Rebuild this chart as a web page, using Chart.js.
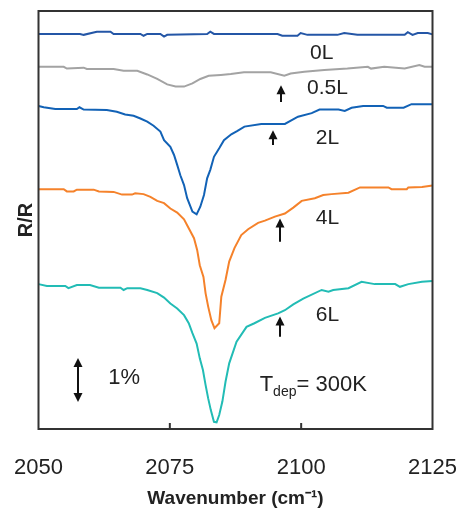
<!DOCTYPE html>
<html>
<head>
<meta charset="utf-8">
<script src="https://cdn.jsdelivr.net/npm/chart.js@4/dist/chart.umd.min.js"></script>
<style>
html,body{margin:0;padding:0;background:#fff;}
#wrap{width:461px;height:515px;position:relative;}
</style>
</head>
<body>
<div id="wrap"><canvas id="c" width="461" height="515"></canvas></div>
<script>
// Wavenumber (cm-1) and R/R (%) values, each spectrum offset vertically
const wn0L = [2050,2057.9,2058.6,2061.1,2063.7,2064.3,2069.4,2070.0,2070.7,2073.2,2073.9,2074.5,2082.1,2082.7,2083.4,2095.5,2096.4,2099.3,2099.9,2101.2,2106.9,2108.2,2110.7,2119.7,2120.3,2121.2,2122.2,2124.1,2125];
const r0L  = [8.78,8.78,8.76,8.83,8.83,8.78,8.78,8.74,8.78,8.78,8.72,8.76,8.78,8.83,8.78,8.78,8.74,8.74,8.80,8.76,8.76,8.80,8.76,8.76,8.82,8.76,8.80,8.80,8.77];

const wn05L = [2050,2054.8,2055.4,2058.6,2059.2,2064.3,2066.2,2068.8,2070.7,2072.6,2074.5,2076.1,2077.7,2079.3,2080.8,2082.4,2084.7,2086.6,2089.1,2094.2,2096.8,2098.0,2100.6,2104.4,2108.8,2112.7,2113.3,2115.8,2119.7,2122.5,2123.5,2125];
const r05L  = [8.05,8.05,8.01,8.03,8.00,8.00,7.96,7.96,7.88,7.78,7.66,7.61,7.61,7.68,7.78,7.85,7.87,7.89,7.93,7.93,7.85,7.90,7.94,7.98,8.01,8.05,8.01,8.05,8.01,8.09,8.05,8.05];

const wn2L = [2050,2051.0,2053.2,2057.3,2057.8,2058.6,2063.0,2064.9,2066.5,2068.1,2069.4,2070.7,2071.9,2073.2,2073.9,2075.1,2075.8,2076.4,2077.0,2077.7,2078.3,2079.3,2080.1,2080.8,2081.5,2082.1,2082.7,2083.4,2084.4,2085.3,2086.7,2087.8,2089.2,2092.4,2096.9,2099.4,2102.0,2103.5,2107.1,2108.3,2109.6,2111.8,2115.6,2116.3,2119.5,2121.0,2125];
const r2L  = [7.18,7.15,7.11,7.11,7.15,7.10,7.09,7.05,6.99,6.96,6.90,6.83,6.74,6.61,6.42,6.27,6.09,5.87,5.64,5.42,5.13,4.83,4.77,4.94,5.20,5.57,5.76,6.05,6.24,6.42,6.55,6.62,6.72,6.78,6.78,6.94,7.02,7.10,7.10,7.07,7.14,7.18,7.18,7.14,7.14,7.22,7.22];

const wn4L = [2050,2054.8,2055.4,2056.7,2057.3,2060.5,2061.5,2064.3,2065.9,2067.8,2068.4,2070.0,2071.3,2072.6,2073.9,2075.1,2076.4,2077.7,2078.6,2079.6,2080.2,2080.7,2081.4,2081.8,2082.3,2082.9,2083.5,2084.4,2084.8,2085.6,2086.3,2087.3,2088.6,2089.9,2091.8,2093.1,2095.0,2096.9,2098.5,2100.1,2102.6,2104.2,2105.8,2109.0,2111.2,2116.6,2117.2,2120.1,2120.4,2123.0,2125];
const r4L  = [5.33,5.33,5.28,5.28,5.32,5.32,5.28,5.27,5.21,5.21,5.24,5.22,5.16,5.07,5.02,4.90,4.81,4.66,4.46,4.24,3.98,3.64,3.38,3.02,2.72,2.42,2.24,2.35,2.94,3.31,3.72,4.02,4.31,4.44,4.58,4.63,4.72,4.79,4.92,5.07,5.13,5.20,5.22,5.25,5.37,5.37,5.33,5.33,5.37,5.38,5.41];

const wn6L = [2050,2051.6,2055.1,2055.7,2057.3,2059.8,2061.5,2065.6,2066.2,2066.9,2069.4,2070.7,2072.6,2073.9,2075.1,2076.4,2077.7,2078.6,2079.3,2080.1,2080.7,2081.3,2081.8,2082.3,2082.8,2083.4,2083.9,2084.4,2085.0,2085.6,2086.3,2087.7,2089.6,2091.1,2093.1,2095.6,2096.9,2098.5,2100.4,2103.9,2105.2,2106.1,2109.0,2111.5,2114.0,2117.9,2118.8,2120.4,2123.0,2125];
const r6L  = [3.22,3.18,3.18,3.13,3.20,3.20,3.14,3.14,3.09,3.13,3.13,3.09,3.02,2.92,2.79,2.68,2.53,2.35,2.13,1.90,1.57,1.31,0.98,0.68,0.42,0.16,0.15,0.31,0.61,1.05,1.46,1.94,2.27,2.35,2.47,2.57,2.64,2.77,2.90,3.09,3.05,3.09,3.13,3.27,3.22,3.22,3.16,3.22,3.27,3.29];

const seriesNames = ["0L","0.5L","2L","4L","6L"];
const xTicks = [2050,2075,2100,2125];

// Annotation labels (data coordinates)
const labelText = ["0L","0.5L","2L","4L","6L"];
const labelWn   = [2103.9,2105.0,2105.0,2105.0,2105.0];
const labelVal  = [8.36,7.58,6.47,4.69,2.53];
const arrowWn   = [2096.2,2094.7,2096.05,2096.05];
const arrowTop  = [7.64,6.64,4.68,2.50];
const arrowTail = [7.27,6.31,4.16,2.05];
const scaleBarWn = 2057.6, scaleBarLow = 0.60, scaleBarHigh = 1.58;

const colors = ["#2456a6","#a3a3a3","#1262b6","#f5822b","#22bcb5"];
const xs = [wn0L,wn05L,wn2L,wn4L,wn6L];
const ys = [r0L,r05L,r2L,r4L,r6L];

const FONT = "'Liberation Sans', Arial, sans-serif";

const datasets = seriesNames.map((n,i)=>({
  label:n,
  data: xs[i].map((x,j)=>({x:x,y:ys[i][j]})),
  borderColor: colors[i],
  borderWidth: 2,
  pointRadius: 0,
  tension: 0,
  fill:false
}));

function upArrow(ctx,x,yTop,yTail){
  ctx.beginPath();
  ctx.moveTo(x,yTail); ctx.lineTo(x,yTop+6); ctx.stroke();
  ctx.beginPath();
  ctx.moveTo(x,yTop); ctx.lineTo(x-4.5,yTop+9); ctx.lineTo(x+4.5,yTop+9); ctx.closePath(); ctx.fill();
}
function downArrow(ctx,x,yTip,yTail){
  ctx.beginPath();
  ctx.moveTo(x,yTail); ctx.lineTo(x,yTip-6); ctx.stroke();
  ctx.beginPath();
  ctx.moveTo(x,yTip); ctx.lineTo(x-4.5,yTip-9); ctx.lineTo(x+4.5,yTip-9); ctx.closePath(); ctx.fill();
}

const annot = {
  id:'annot',
  afterDatasetsDraw(chart){
    const ctx = chart.ctx, xS = chart.scales.x, yS = chart.scales.y, a = chart.chartArea;
    ctx.save();
    // frame
    ctx.strokeStyle = '#333'; ctx.lineWidth = 2;
    ctx.strokeRect(a.left, a.top, a.right-a.left, a.bottom-a.top);
    // inward ticks
    xTicks.forEach(v=>{
      const px = xS.getPixelForValue(v);
      if (px > a.left+2 && px < a.right-2){
        ctx.beginPath(); ctx.moveTo(px,a.bottom); ctx.lineTo(px,a.bottom-6); ctx.stroke();
      }
    });
    ctx.fillStyle = '#222';
    ctx.font = '21px ' + FONT;
    ctx.textAlign = 'center'; ctx.textBaseline = 'middle';
    labelText.forEach((t,i)=>{
      ctx.fillText(t, xS.getPixelForValue(labelWn[i]), yS.getPixelForValue(labelVal[i]));
    });
    ctx.strokeStyle = '#111'; ctx.fillStyle = '#111'; ctx.lineWidth = 2;
    arrowWn.forEach((w,i)=>{
      upArrow(ctx, Math.round(xS.getPixelForValue(w)), yS.getPixelForValue(arrowTop[i]), yS.getPixelForValue(arrowTail[i]));
    });
    // scale bar double arrow
    const sx = Math.round(xS.getPixelForValue(scaleBarWn));
    const yHi = yS.getPixelForValue(scaleBarHigh), yLo = yS.getPixelForValue(scaleBarLow);
    const mid = (yHi+yLo)/2;
    upArrow(ctx, sx, yHi, mid);
    downArrow(ctx, sx, yLo, mid);
    ctx.fillStyle = '#222';
    ctx.font = '22px ' + FONT;
    ctx.textAlign = 'center'; ctx.textBaseline = 'middle';
    ctx.fillText('1%', xS.getPixelForValue(2066.3), yS.getPixelForValue(1.14));
    // T_dep = 300K
    ctx.textAlign = 'left'; ctx.textBaseline = 'alphabetic';
    let tx = xS.getPixelForValue(2092.1);
    const ty = yS.getPixelForValue(1.02) + 8;
    ctx.font = '22px ' + FONT;
    ctx.fillText('T', tx, ty); tx += ctx.measureText('T').width;
    ctx.font = '14px ' + FONT;
    ctx.fillText('dep', tx, ty + 5); tx += ctx.measureText('dep').width;
    ctx.font = '22px ' + FONT;
    ctx.fillText('= 300K', tx, ty);
    ctx.restore();
  }
};

new Chart(document.getElementById('c'), {
  type:'line',
  data:{datasets},
  options:{
    responsive:false,
    animation:false,
    layout:{padding:{left:10,right:28.5,top:11,bottom:0}},
    plugins:{legend:{display:false},tooltip:{enabled:false}},
    scales:{
      x:{
        type:'linear', min:2050, max:2125,
        afterBuildTicks(s){ s.ticks = xTicks.map(v=>({value:v})); },
        afterFit(s){ s.height = 86; s.paddingLeft = 0; s.paddingRight = 0; },
        grid:{display:false, drawTicks:false},
        border:{display:false},
        ticks:{color:'#222', font:{size:22, family:FONT}, padding:26, maxRotation:0, autoSkip:false,
               callback:(v)=>String(v)},
        title:{display:true, text:'Wavenumber (cm\u207B\u00B9)', color:'#222', font:{size:19, weight:'bold', family:FONT}, padding:{top:0,bottom:5}}
      },
      y:{
        min:0, max:9.29,
        afterFit(s){ s.width = 28.5; s.paddingTop = 0; s.paddingBottom = 0; },
        grid:{display:false, drawTicks:false},
        border:{display:false},
        ticks:{display:false},
        title:{display:true, text:'R/R', color:'#222', font:{size:20, weight:'bold', family:FONT}, padding:{top:4,bottom:0}}
      }
    }
  },
  plugins:[annot]
});
</script>
</body>
</html>
